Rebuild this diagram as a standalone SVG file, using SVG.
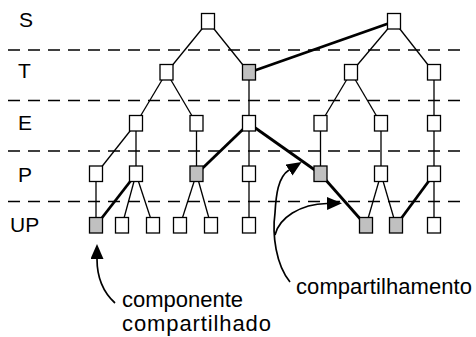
<svg xmlns="http://www.w3.org/2000/svg" width="476" height="337" viewBox="0 0 476 337">
<style>
.lbl{font-family:"Liberation Sans",Arial,sans-serif;font-size:21px;fill:#000}
.ann{font-family:"Liberation Sans",Arial,sans-serif;font-size:22px;fill:#000}
.dash{stroke:#000;stroke-width:1.5;stroke-dasharray:12 8;fill:none}
.e{stroke:#000;stroke-width:1.3;fill:none}
.t{stroke:#000;stroke-width:2.8;fill:none}
.n rect{fill:#fff;stroke:#000;stroke-width:1.3}
.n.g rect{fill:#c0c0c0}
.arr{stroke:#000;stroke-width:1.7;fill:none;marker-end:url(#ah)}
</style>
<defs>
<marker id="ah" markerUnits="userSpaceOnUse" markerWidth="16" markerHeight="14" refX="0" refY="6.5" orient="auto">
<path d="M0,0 L15,6.5 L0,13 z" fill="#000"/>
</marker>
</defs>
<g id="levels">
<line class="dash" x1="8" y1="50" x2="466" y2="50"/>
<line class="dash" x1="8" y1="100.5" x2="466" y2="100.5"/>
<line class="dash" x1="8" y1="151" x2="466" y2="151"/>
<line class="dash" x1="8" y1="201.5" x2="466" y2="201.5"/>
<text class="lbl" x="19" y="27">S</text>
<text class="lbl" x="18" y="78">T</text>
<text class="lbl" x="18" y="130">E</text>
<text class="lbl" x="18" y="182">P</text>
<text class="lbl" x="10" y="232">UP</text>
</g>
<g id="connectors">
<line class="e" x1="208" y1="21.5" x2="166.5" y2="72.5"/>
<line class="e" x1="208" y1="21.5" x2="249" y2="72.5"/>
<line class="t" x1="394" y1="21.5" x2="249" y2="72.5"/>
<line class="e" x1="394" y1="21.5" x2="351" y2="72.5"/>
<line class="e" x1="394" y1="21.5" x2="434" y2="72.5"/>
<line class="e" x1="166.5" y1="72.5" x2="136" y2="123.5"/>
<line class="e" x1="166.5" y1="72.5" x2="196.5" y2="123.5"/>
<line class="e" x1="249" y1="72.5" x2="249" y2="123.5"/>
<line class="e" x1="351" y1="72.5" x2="320.5" y2="123.5"/>
<line class="e" x1="351" y1="72.5" x2="381" y2="123.5"/>
<line class="e" x1="434" y1="72.5" x2="434" y2="123.5"/>
<line class="e" x1="136" y1="123.5" x2="96" y2="174"/>
<line class="e" x1="136" y1="123.5" x2="136" y2="174"/>
<line class="e" x1="196.5" y1="123.5" x2="196.5" y2="174"/>
<line class="t" x1="249" y1="123.5" x2="196.5" y2="174"/>
<line class="e" x1="249" y1="123.5" x2="249" y2="174"/>
<line class="t" x1="249" y1="123.5" x2="320.5" y2="174"/>
<line class="e" x1="320.5" y1="123.5" x2="320.5" y2="174"/>
<line class="e" x1="381" y1="123.5" x2="381" y2="174"/>
<line class="e" x1="434" y1="123.5" x2="434" y2="174"/>
<line class="e" x1="96" y1="174" x2="96" y2="225.5"/>
<line class="t" x1="136" y1="174" x2="96" y2="225.5"/>
<line class="e" x1="136" y1="174" x2="122" y2="225.5"/>
<line class="e" x1="136" y1="174" x2="153" y2="225.5"/>
<line class="e" x1="196.5" y1="174" x2="180" y2="225.5"/>
<line class="e" x1="196.5" y1="174" x2="211" y2="225.5"/>
<line class="e" x1="249" y1="174" x2="249" y2="225.5"/>
<line class="t" x1="320.5" y1="174" x2="366" y2="225.5"/>
<line class="e" x1="381" y1="174" x2="366" y2="225.5"/>
<line class="e" x1="381" y1="174" x2="396" y2="225.5"/>
<line class="t" x1="434" y1="174" x2="396" y2="225.5"/>
<line class="e" x1="434" y1="174" x2="434" y2="225.5"/>
</g>
<g id="S1" class="n"><rect x="201.5" y="13.5" width="13" height="15.5"/></g>
<g id="S2" class="n"><rect x="387.5" y="13.5" width="13" height="15.5"/></g>
<g id="T1" class="n"><rect x="160" y="64.5" width="13" height="15.5"/></g>
<g id="T2" class="n g"><rect x="242.5" y="64.5" width="13" height="15.5"/></g>
<g id="T3" class="n"><rect x="344.5" y="64.5" width="13" height="15.5"/></g>
<g id="T4" class="n"><rect x="427.5" y="64.5" width="13" height="15.5"/></g>
<g id="E1" class="n"><rect x="129.5" y="115.5" width="13" height="15.5"/></g>
<g id="E2" class="n"><rect x="190" y="115.5" width="13" height="15.5"/></g>
<g id="E3" class="n"><rect x="242.5" y="115.5" width="13" height="15.5"/></g>
<g id="E4" class="n"><rect x="314" y="115.5" width="13" height="15.5"/></g>
<g id="E5" class="n"><rect x="374.5" y="115.5" width="13" height="15.5"/></g>
<g id="E6" class="n"><rect x="427.5" y="115.5" width="13" height="15.5"/></g>
<g id="P1" class="n"><rect x="89.5" y="166" width="13" height="15.5"/></g>
<g id="P2" class="n"><rect x="129.5" y="166" width="13" height="15.5"/></g>
<g id="P3" class="n g"><rect x="190" y="166" width="13" height="15.5"/></g>
<g id="P4" class="n"><rect x="242.5" y="166" width="13" height="15.5"/></g>
<g id="P5" class="n g"><rect x="314" y="166" width="13" height="15.5"/></g>
<g id="P6" class="n"><rect x="374.5" y="166" width="13" height="15.5"/></g>
<g id="P7" class="n"><rect x="427.5" y="166" width="13" height="15.5"/></g>
<g id="U1" class="n g"><rect x="89.5" y="217.5" width="13" height="15.5"/></g>
<g id="U2" class="n"><rect x="115.5" y="217.5" width="13" height="15.5"/></g>
<g id="U3" class="n"><rect x="146.5" y="217.5" width="13" height="15.5"/></g>
<g id="U4" class="n"><rect x="173.5" y="217.5" width="13" height="15.5"/></g>
<g id="U5" class="n"><rect x="204.5" y="217.5" width="13" height="15.5"/></g>
<g id="U6" class="n"><rect x="242.5" y="217.5" width="13" height="15.5"/></g>
<g id="U7" class="n g"><rect x="359.5" y="217.5" width="13" height="15.5"/></g>
<g id="U8" class="n g"><rect x="389.5" y="217.5" width="13" height="15.5"/></g>
<g id="U9" class="n"><rect x="427.5" y="217.5" width="13" height="15.5"/></g>
<g id="annotations">
<path class="arr" d="M115,303 C104,293 97,279 97,259"/>
<path class="arr" d="M290,282 C276,265 272,235 275,213 C276,195 278,177 289,170"/>
<path class="arr" d="M275,235 C279,218 300,204 327,203.5"/>
<text class="ann" x="122" y="307">componente</text>
<text class="ann" x="122" y="331" textLength="149" lengthAdjust="spacing">compartilhado</text>
<text class="ann" x="296" y="294" textLength="176" lengthAdjust="spacing">compartilhamento</text>
</g>
</svg>
